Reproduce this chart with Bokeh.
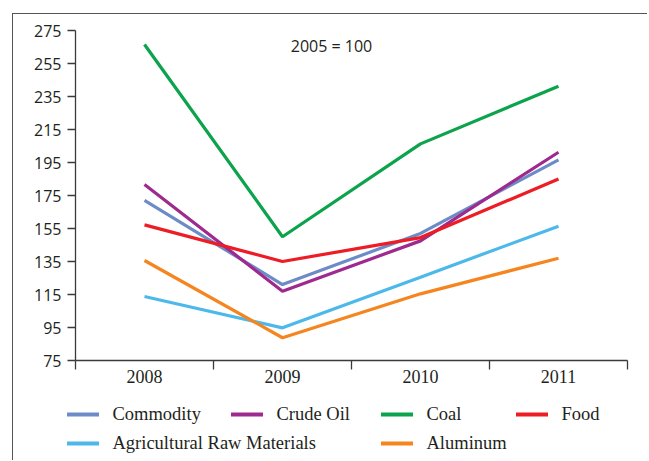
from bokeh.plotting import figure
from bokeh.layouts import column
from bokeh.models import Range1d, FixedTicker, Legend, LegendItem, Label
from bokeh.embed import file_html
from bokeh.resources import INLINE

years = [2008, 2009, 2010, 2011]
y_ticks = [75, 95, 115, 135, 155, 175, 195, 215, 235, 255, 275]

commodity = [172, 121, 152, 196.6]
crude_oil = [181.7, 117, 147.5, 201.2]
coal = [266.5, 150, 206.3, 241.2]
food = [157.2, 135, 149.5, 185]
agri = [113.8, 94.8, 125.5, 156.4]
aluminum = [135.6, 88.8, 115.4, 137]

series = [
    ("Commodity", commodity, "#6d8cc7"),
    ("Crude Oil", crude_oil, "#9e2a8f"),
    ("Coal", coal, "#0ba34b"),
    ("Food", food, "#ec1d25"),
    ("Agricultural Raw Materials", agri, "#4db9ea"),
    ("Aluminum", aluminum, "#f5861f"),
]

# legend slots: (glyph start x, centre y) in page px
legend_pos = [(67, 415), (231, 415), (381, 415), (516, 415), (67, 444), (381, 444)]

ox, oy = 13.5, 14.5          # where the charts start inside the bordered box
main_w = 62 + 552 + 20
main_h = 16 + 330 + 39
leg_h = 61

p = figure(frame_width=552, frame_height=330,
           min_border_left=62, min_border_right=20,
           min_border_top=16, min_border_bottom=39,
           x_range=Range1d(years[0] - 0.5, years[-1] + 0.5),
           y_range=Range1d(y_ticks[0], y_ticks[-1]),
           output_backend="svg", toolbar_location=None)
p.frame_align = False

p.xgrid.visible = False
p.ygrid.visible = False
p.outline_line_color = None
p.background_fill_color = "white"
p.border_fill_color = "white"

axis_color = "#3a3a3a"
text_color = "#231f20"

# x axis
p.xaxis.ticker = FixedTicker(ticks=years,
                             minor_ticks=[y - 0.5 for y in years] + [years[-1] + 0.5])
p.xaxis.major_label_overrides = {y: str(y) for y in years}
p.xaxis.major_tick_in = 0
p.xaxis.major_tick_out = 0
p.xaxis.minor_tick_in = 0
p.xaxis.minor_tick_out = 9
p.xaxis.minor_tick_line_color = axis_color
p.xaxis.minor_tick_line_width = 1.3
p.xaxis.axis_line_color = axis_color
p.xaxis.axis_line_width = 1.3
p.xaxis.major_label_standoff = 0
p.xaxis.major_label_text_font = "Liberation Serif"
p.xaxis.major_label_text_font_size = "18px"
p.xaxis.major_label_text_color = text_color

# y axis
p.yaxis.ticker = FixedTicker(ticks=y_ticks, minor_ticks=[])
p.yaxis.major_tick_in = 0
p.yaxis.major_tick_out = 8
p.yaxis.major_tick_line_color = axis_color
p.yaxis.major_tick_line_width = 1.3
p.yaxis.axis_line_color = axis_color
p.yaxis.axis_line_width = 1.3
p.yaxis.major_label_standoff = 6
p.yaxis.major_label_text_font = "Open Sans"
p.yaxis.major_label_text_font_size = "16px"
p.yaxis.major_label_text_color = text_color

p.add_layout(Label(x=256, y=315, x_units="screen", y_units="screen",
                   text="2005 = 100", text_align="center", text_baseline="middle",
                   text_font="Open Sans", text_font_size="16px",
                   text_color=text_color))

# legend strip (its own canvas; the key renderers lie outside its ranges)
pl = figure(width=main_w, height=leg_h, min_border=0,
            x_range=Range1d(0, 1), y_range=Range1d(0, 1),
            x_axis_location=None, y_axis_location=None,
            output_backend="svg", toolbar_location=None)
pl.frame_align = False
pl.xgrid.visible = False
pl.ygrid.visible = False
pl.outline_line_color = None
pl.border_fill_color = "white"
pl.background_fill_color = "white"

leg_bottom = oy + main_h + leg_h
for (name, vals, color), (gx, gy) in zip(series, legend_pos):
    p.line(years, vals, line_color=color, line_width=3.2)
    key = pl.line(years, vals, line_color=color, line_width=4, line_cap="round")
    leg = Legend(items=[LegendItem(label=name, renderers=[key])],
                 location=(gx - ox, leg_bottom - gy - 10),
                 orientation="horizontal",
                 padding=0, margin=0, spacing=0,
                 glyph_width=32, glyph_height=20,
                 label_height=20, label_standoff=14,
                 label_text_font="Liberation Serif",
                 label_text_font_size="18.5px",
                 label_text_color=text_color,
                 border_line_color=None,
                 background_fill_alpha=0)
    pl.add_layout(leg, "center")

layout = column(p, pl, spacing=0, margin=(13, 0, 0, 12),
                styles={"border-left": "1.5px solid #555555",
                        "border-top": "1.5px solid #555555"})

open("out.html", "w").write(file_html(layout, INLINE))
